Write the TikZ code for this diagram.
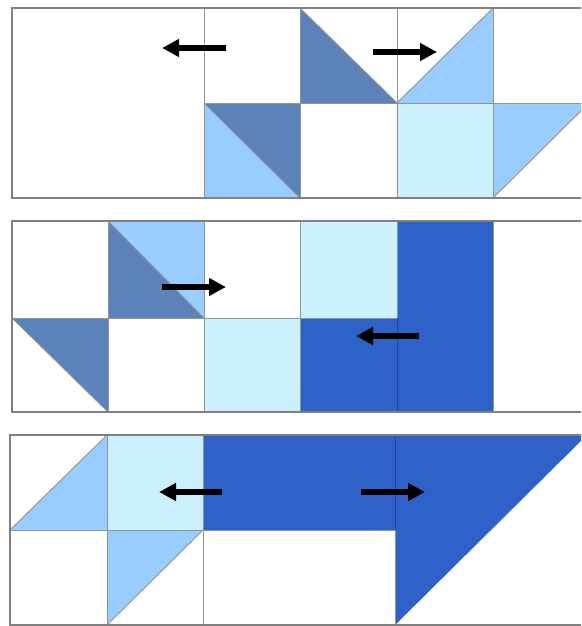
\documentclass[tikz,border=0pt]{standalone}
\usetikzlibrary{arrows.meta}
\definecolor{dkb}{RGB}{91,131,186}
\definecolor{ltb}{RGB}{153,204,255}
\definecolor{pale}{RGB}{204,240,253}
\definecolor{royal}{RGB}{46,98,200}
\definecolor{framec}{RGB}{128,128,128}
\definecolor{gridc}{RGB}{140,150,150}
\definecolor{navyline}{RGB}{30,70,160}
\begin{document}
\begin{tikzpicture}[x=1pt,y=-1pt,
  panelframe/.style={draw=framec,line width=2.5pt},
  gridline/.style={draw=gridc,line width=0.9pt},
  mover/.style={draw=black,line width=5.5pt,-{Triangle[length=17pt,width=17pt]}}]
\useasboundingbox (0,0) rectangle (581,626);
\clip (0,0) rectangle (581,626);
\fill[white] (0,0) rectangle (581,626);

% ---------- Panel 1 ----------
\fill[dkb] (300,8) -- (300,103) -- (397,103) -- cycle;
\fill[ltb] (493,8) -- (493,103) -- (397,103) -- cycle;
\fill[dkb] (204,103) -- (300,103) -- (300,198) -- cycle;
\fill[ltb] (204,103) -- (204,198) -- (300,198) -- cycle;
\fill[pale] (397,103) rectangle (493,198);
\fill[ltb] (493,103) -- (589,103) -- (493,198) -- cycle;
\draw[gridline] (204,8) -- (204,198);
\draw[gridline] (300,8) -- (300,198);
\draw[gridline] (397,8) -- (397,198);
\draw[gridline] (493,8) -- (493,198);
\draw[gridline] (204,103) -- (589,103);
\draw[gridline] (300,8) -- (397,103) -- (493,8);
\draw[gridline] (204,103) -- (300,198);
\draw[gridline] (493,198) -- (589,103);
\draw[panelframe] (12,8) rectangle (592,198);
\coordinate (p1as) at (226,48); \coordinate (p1ae) at (162,48);
\coordinate (p1bs) at (373,52); \coordinate (p1be) at (437,52);
\draw[mover] (p1as) -- (p1ae);
\draw[mover] (p1bs) -- (p1be);

% ---------- Panel 2 ----------
\fill[dkb] (12,318) -- (108,318) -- (108,412) -- cycle;
\fill[dkb] (108,221) -- (108,318) -- (204,318) -- cycle;
\fill[ltb] (108,221) -- (204,221) -- (204,318) -- cycle;
\fill[pale] (204,318) rectangle (300,412);
\fill[pale] (300,221) rectangle (397,318);
\fill[royal] (300,318) rectangle (397,412);
\fill[royal] (397,221) rectangle (493,412);
\draw[gridline] (108,221) -- (108,412);
\draw[gridline] (204,221) -- (204,412);
\draw[gridline] (300,221) -- (300,412);
\draw[gridline] (12,318) -- (397,318);
\draw[gridline] (397,221) -- (397,318);
\draw[navyline,line width=0.9pt] (397,318) -- (397,412);
\draw[gridline] (493,221) -- (493,412);
\draw[gridline] (12,318) -- (108,412);
\draw[gridline] (108,221) -- (204,318);
\draw[panelframe] (12,221) rectangle (592,412);
\coordinate (p2as) at (162,287); \coordinate (p2ae) at (226,287);
\coordinate (p2bs) at (419,336); \coordinate (p2be) at (356,336);
\draw[mover] (p2as) -- (p2ae);
\draw[mover] (p2bs) -- (p2be);

% ---------- Panel 3 ----------
\fill[ltb] (10,530) -- (107,530) -- (107,435) -- cycle;
\fill[pale] (107,435) rectangle (203,530);
\fill[ltb] (107,530) -- (203,530) -- (107,625) -- cycle;
\fill[royal] (203,435) -- (587,435) -- (395,625) -- (395,530) -- (203,530) -- cycle;
\draw[gridline] (107,435) -- (107,625);
\draw[gridline] (203,435) -- (203,625);
\draw[gridline] (10,530) -- (395,530);
\draw[navyline,line width=0.9pt] (395,435) -- (395,530);
\draw[gridline] (395,530) -- (395,625);
\draw[gridline] (10,530) -- (107,435);
\draw[gridline] (203,530) -- (107,625);
\draw[panelframe] (10,435) rectangle (592,625);
\coordinate (p3as) at (222,492); \coordinate (p3ae) at (159,492);
\coordinate (p3bs) at (361,492); \coordinate (p3be) at (425,492);
\draw[mover] (p3as) -- (p3ae);
\draw[mover] (p3bs) -- (p3be);
\end{tikzpicture}
\end{document}
